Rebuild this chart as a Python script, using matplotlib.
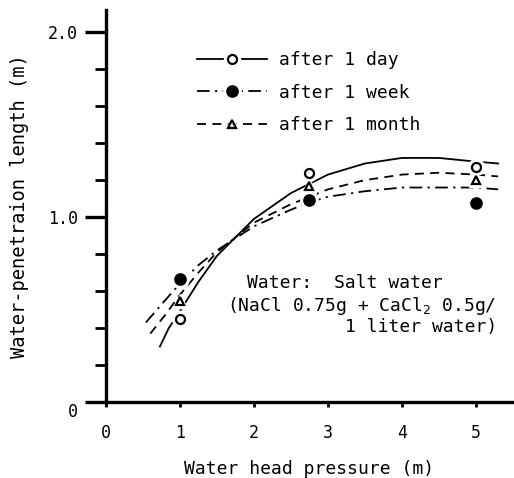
import numpy as np
import matplotlib.pyplot as plt
import matplotlib.transforms as mtransforms
from matplotlib.lines import Line2D
from matplotlib.legend_handler import HandlerTuple
from matplotlib.ticker import MultipleLocator

plt.rcParams['font.family'] = ['DejaVu Sans Mono']

# measured points
pressure = [1.0, 2.75, 5.0]
day_pts = [0.45, 1.24, 1.27]
week_pts = [0.665, 1.09, 1.075]
month_pts = [0.545, 1.17, 1.20]

# hand-drawn trend curves
day_x = [0.73, 0.85, 1.0, 1.25, 1.5, 2.0, 2.5, 2.75, 3.0, 3.5, 4.0, 4.5, 5.0, 5.3]
day_y = [0.30, 0.40, 0.49, 0.65, 0.79, 0.99, 1.13, 1.18, 1.23, 1.29, 1.32, 1.32, 1.30, 1.29]
week_x = [0.54, 0.8, 1.0, 1.25, 1.5, 2.0, 2.5, 2.75, 3.0, 3.5, 4.0, 4.5, 5.0, 5.3]
week_y = [0.43, 0.55, 0.64, 0.74, 0.82, 0.95, 1.04, 1.08, 1.11, 1.14, 1.16, 1.16, 1.16, 1.15]
month_x = [0.6, 0.8, 1.0, 1.25, 1.5, 2.0, 2.5, 2.75, 3.0, 3.5, 4.0, 4.5, 5.0, 5.3]
month_y = [0.37, 0.47, 0.58, 0.70, 0.81, 0.97, 1.07, 1.11, 1.15, 1.20, 1.23, 1.24, 1.23, 1.22]

labels = ["after 1 day", "after 1 week", "after 1 month"]

fig = plt.figure(figsize=(5.14, 4.78), dpi=100)
ax = fig.add_axes([0.206, 0.159, 0.792, 0.82])

fs = 13
lw = 1.3
ls_day = '-'
ls_week = (0, (7, 3, 1.2, 3))
ls_month = (0, (5, 3.5))

ax.plot(day_x, day_y, color='black', lw=lw, ls=ls_day)
ax.plot(week_x, week_y, color='black', lw=lw, ls=ls_week)
ax.plot(month_x, month_y, color='black', lw=lw, ls=ls_month)

# white halo under markers gives the gap in the lines
styles = [
    (day_pts, 'o', 'white', 6.5),
    (week_pts, 'o', 'black', 7.5),
    (month_pts, '^', 'white', 5.5),
]
for pts, mk, fc, ms in styles:
    ax.plot(pressure, pts, ls='none', marker=mk, ms=ms + 5, mfc='white', mec='white', zorder=3)
    ax.plot(pressure, pts, ls='none', marker=mk, ms=ms, mfc=fc, mec='black', mew=1.6, zorder=4)

# legend
handles = []
for ls, (pts, mk, fc, ms) in zip([ls_day, ls_week, ls_month], styles):
    line = Line2D([], [], color='black', lw=lw, ls=ls)
    halo = Line2D([], [], ls='none', marker=mk, ms=ms + 5, mfc='white', mec='white')
    mark = Line2D([], [], ls='none', marker=mk, ms=ms, mfc=fc, mec='black', mew=1.6)
    handles.append((line, halo, mark))
ax.legend(handles, labels, handler_map={tuple: HandlerTuple(ndivide=1, pad=0)},
          loc='upper left', bbox_to_anchor=(0.224, 0.895), frameon=False,
          fontsize=fs, handlelength=3.9, handletextpad=0.65, labelspacing=0.8,
          borderaxespad=0, borderpad=0)

ax.text(0.346, 0.304, "Water:  Salt water", transform=ax.transAxes, fontsize=fs,
        va='center', ha='left')
ax.text(0.297, 0.245, "(NaCl 0.75g + CaCl$_2$ 0.5g/", transform=ax.transAxes,
        fontsize=fs, va='center', ha='left')
ax.text(0.961, 0.191, "1 liter water)", transform=ax.transAxes, fontsize=fs,
        va='center', ha='right')

ax.set_xlim(0, 5.5)
ax.set_ylim(0, 2.12)
ax.set_xticks([0, 1, 2, 3, 4, 5])
ax.set_xticklabels(['0', '1', '2', '3', '4', '5'])
ax.set_yticks([0, 1.0, 2.0])
ax.set_yticklabels(['0', '1.0', '2.0'])
ax.yaxis.set_minor_locator(MultipleLocator(0.2))

ax.spines['top'].set_visible(False)
ax.spines['right'].set_visible(False)
ax.spines['left'].set_linewidth(2.4)
ax.spines['bottom'].set_linewidth(2.4)
ax.tick_params(axis='y', which='major', direction='out', length=15, width=2.4,
               labelsize=12, pad=5)
ax.tick_params(axis='y', which='minor', direction='out', length=8, width=2.0)
ax.tick_params(axis='x', direction='out', length=3.5, width=2.0, labelsize=12, pad=12)

# the zero label sits a little lower in the original
zero_lbl = ax.get_yticklabels()[0]
zero_lbl.set_transform(zero_lbl.get_transform() +
                       mtransforms.ScaledTranslation(0, -6 / 72, fig.dpi_scale_trans))

ax.set_xlabel("Water head pressure (m)", fontsize=fs, labelpad=13)
ax.set_ylabel("Water-penetraion length (m)", fontsize=13.5, labelpad=14)

fig.savefig("out.png", dpi=100)
